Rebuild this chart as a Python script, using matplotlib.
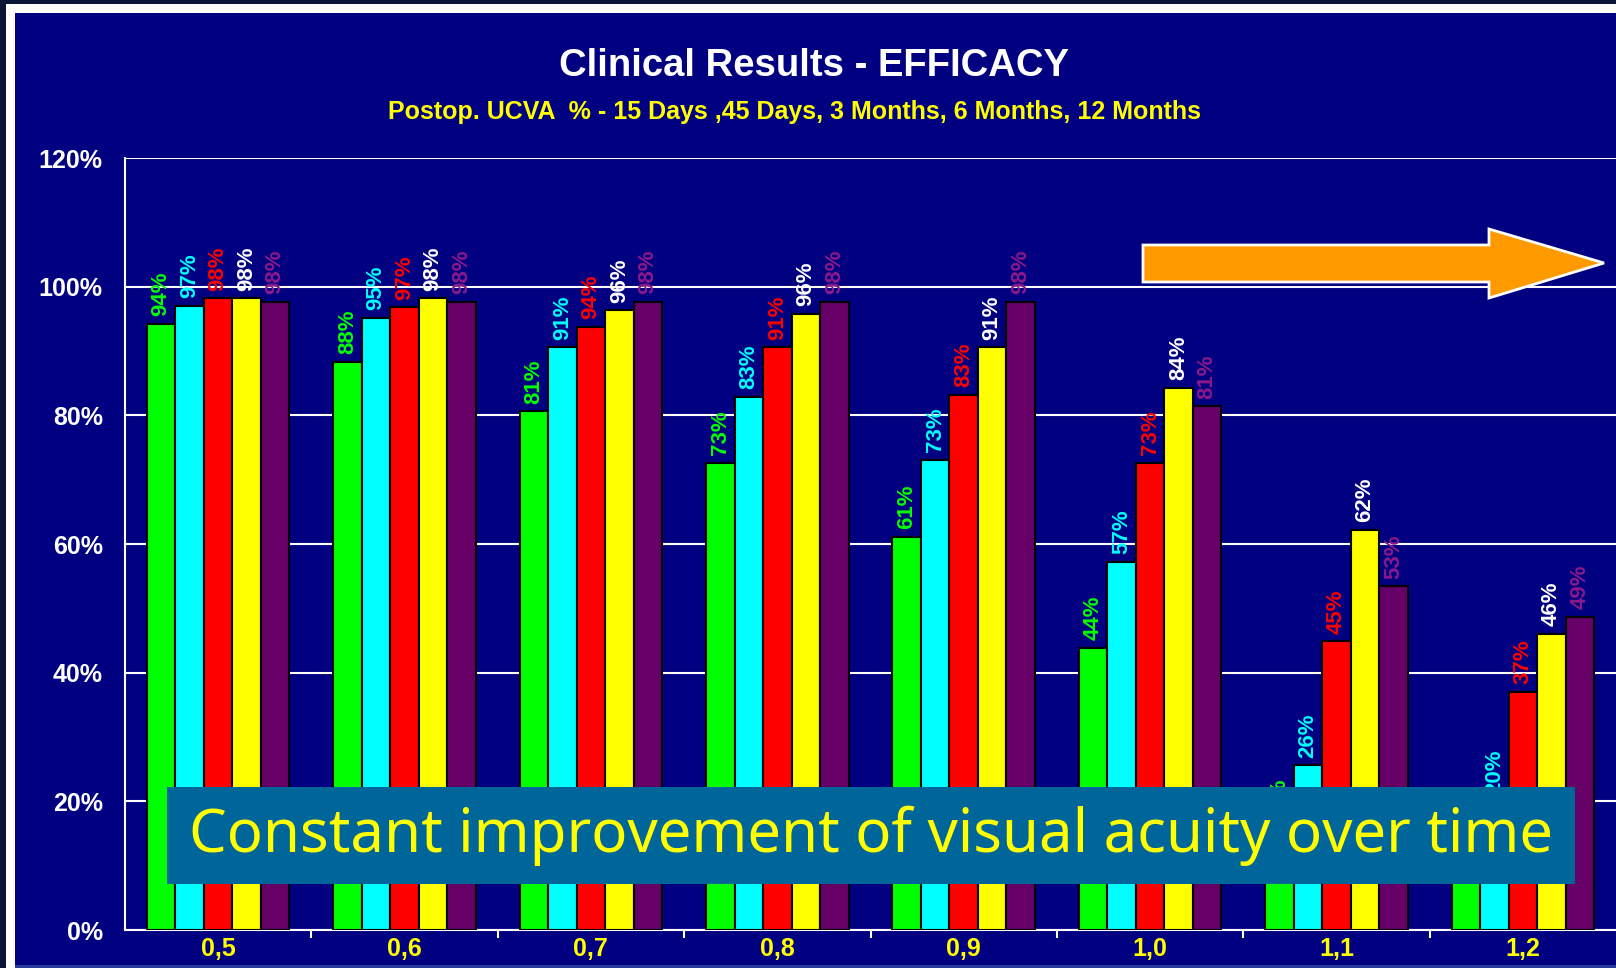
import matplotlib
matplotlib.use("Agg")
import matplotlib.pyplot as plt
from matplotlib.patches import Rectangle, Polygon
import numpy as np

# acuity thresholds (x axis) and % of eyes reaching them per follow-up visit
categories = ['0,5', '0,6', '0,7', '0,8', '0,9', '1,0', '1,1', '1,2']
days_15 = [94.2, 88.3, 80.6, 72.6, 61.1, 43.9, 15.6, 12.0]
days_45 = [97.0, 95.2, 90.6, 82.9, 73.1, 57.2, 25.6, 20.0]
months_3 = [98.2, 96.8, 93.8, 90.6, 83.2, 72.6, 44.9, 37.0]
months_6 = [98.2, 98.2, 96.3, 95.8, 90.6, 84.3, 62.2, 46.0]
months_12 = [97.6, 97.6, 97.6, 97.6, 97.6, 81.4, 53.4, 48.7]
y_ticks = [0, 20, 40, 60, 80, 100, 120]

series = [days_15, days_45, months_3, months_6, months_12]
bar_colors = ['#00FF00', '#00FFFF', '#FF0000', '#FFFF00', '#660066']
label_colors = ['#00FF00', '#00FFFF', '#FF0000', '#FFFFFF', '#8B1A8B']

NAVY = '#000080'
W, H, DPI = 1616, 968, 100

fig = plt.figure(figsize=(W / DPI, H / DPI), dpi=DPI, facecolor=NAVY)

def px_rect(x0, y0, x1, y1, color, z=1):
    # rectangle given in pixel coords measured from the top-left corner
    r = Rectangle((x0 / W, 1 - y1 / H), (x1 - x0) / W, (y1 - y0) / H,
                  transform=fig.transFigure, facecolor=color, edgecolor='none',
                  zorder=z)
    fig.add_artist(r)
    return r

# slide frame around the chart
px_rect(0, 0, 6, H, '#0b1535')
px_rect(0, 0, W, 4, '#0b1535')
px_rect(6, 4, 15, H, 'white')
px_rect(6, 4, W, 13, 'white')
px_rect(15, 965, W, H, '#2a3a9a')

ax = fig.add_axes([125 / W, 1 - 930 / H, 1 - 125 / W, (930 - 158) / H])
ax.set_facecolor(NAVY)

x = np.arange(len(categories))
bw = 0.153
for i, (vals, c, lc) in enumerate(zip(series, bar_colors, label_colors)):
    xs = x + (i - 2) * bw
    bars = ax.bar(xs, vals, width=bw, color=c, edgecolor='black', linewidth=1.5,
                  zorder=3)
    for b, v in zip(bars, vals):
        ax.annotate('%.0f%%' % v, (b.get_x() + b.get_width() / 2, v),
                    xytext=(0, 5.5), textcoords='offset points',
                    rotation=90, ha='center', va='bottom', color=lc,
                    fontsize=16, fontweight='bold', family='Liberation Sans',
                    zorder=4)

ax.set_xlim(-0.5, 7.5)
ax.set_ylim(0, 120)
ax.set_yticks(y_ticks)
ax.set_yticklabels(['%d%%' % t for t in y_ticks], color='white', fontsize=18,
                   fontweight='bold', family='Liberation Sans')
ax.tick_params(axis='y', length=0, pad=16)
ax.set_xticks(x)
ax.set_xticklabels(categories, color='#FFFF00', fontsize=18, fontweight='bold',
                   family='Liberation Sans')
ax.set_xticks(np.arange(0.5, 7.5, 1), minor=True)
ax.tick_params(axis='x', which='major', length=0, pad=5)
ax.tick_params(axis='x', which='minor', length=6, width=1.5, color='white',
               direction='out')
ax.grid(axis='y', color='white', linewidth=1.5, zorder=0)
ax.set_axisbelow(True)
for s in ['top', 'right']:
    ax.spines[s].set_visible(False)
for s in ['left', 'bottom']:
    ax.spines[s].set_color('white')
    ax.spines[s].set_linewidth(1.5)

fig.text(814 / W, 1 - 66 / H, 'Clinical Results - EFFICACY', color='white',
         fontsize=27.5, fontweight='bold', family='Liberation Sans',
         ha='center', va='center')
fig.text(794 / W, 1 - 112 / H,
         'Postop. UCVA  % - 15 Days ,45 Days, 3 Months, 6 Months, 12 Months',
         color='#FFFF00', fontsize=18, fontweight='bold',
         family='Liberation Sans', ha='center', va='center')

# orange arrow pointing to the right, vertices in inches from bottom-left
arrow_px = [(1143, 245), (1489, 245), (1489, 229), (1604, 263),
            (1489, 298), (1489, 282), (1143, 282)]
arrow = Polygon([(px / DPI, (H - py) / DPI) for px, py in arrow_px],
                closed=True, transform=fig.dpi_scale_trans,
                facecolor='#FF9900', edgecolor='white', linewidth=2, zorder=5)
fig.add_artist(arrow)

# caption box over the lower part of the chart
px_rect(167, 787, 1575, 884, '#006699', z=6)
cap = fig.text((189 + 1553) / 2 / W, 1 - 836 / H,
               'Constant improvement of visual acuity over time',
               color='#FFFF00', fontsize=46, family='Noto Sans',
               ha='center', va='center', zorder=7)
fig.canvas.draw()
bb = cap.get_window_extent()
cap.set_fontsize(46 * (1553 - 189) / bb.width)

fig.savefig('out.png', dpi=DPI, facecolor=NAVY)
